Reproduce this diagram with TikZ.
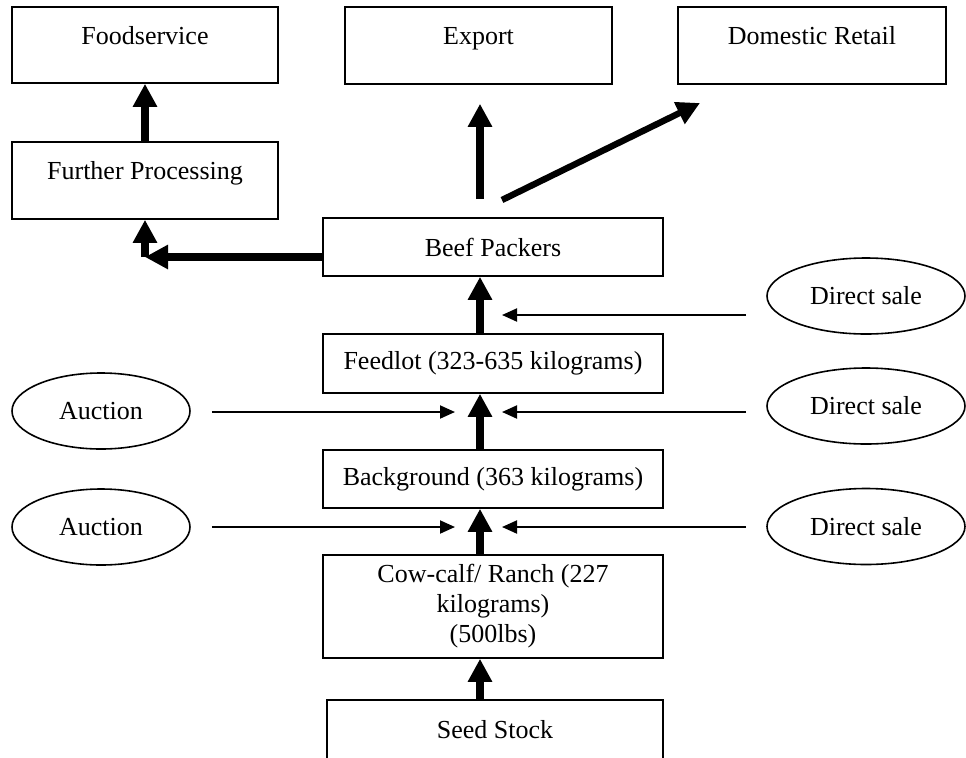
\documentclass[tikz,border=0pt]{standalone}
\usepackage{fontspec}
\setmainfont{Liberation Serif}
\usetikzlibrary{shapes.geometric,arrows.meta}

\begin{document}
\begin{tikzpicture}[x=0.5pt, y=-0.5pt,
  font=\fontsize{13}{15}\selectfont,
  stage/.style={rectangle, draw, line width=0.8pt, inner sep=0pt, align=center},
  topstage/.style={stage, text height=9pt, text depth=10pt},
  market/.style={ellipse, draw, line width=0.8pt, inner sep=0pt, minimum height=38pt},
  flow/.style={line width=3.6pt, -{Triangle[width=11.5pt,length=11.5pt]}},
  feed/.style={line width=1pt, -{Triangle[width=6.5pt,length=7.5pt]}}]
\clip (0,0) rectangle (966,757);

% outlets
\node[topstage, minimum width=133pt, minimum height=38pt] (food) at (145,45) {Foodservice};
\node[topstage, minimum width=133.5pt, minimum height=38.5pt] (export) at (478.5,45.5) {Export};
\node[topstage, minimum width=134pt, minimum height=38.5pt] (retail) at (812,45.5) {Domestic Retail};
\node[topstage, minimum width=133pt, minimum height=38.5pt] (further) at (145,180.5) {Further Processing};

% supply chain stages
\node[stage, minimum width=170pt, minimum height=29pt] (packers) at (493,247) {Beef Packers};
\node[stage, minimum width=170pt, minimum height=29.5pt] (feedlot) at (493,363.5) {Feedlot (323-635 kilograms)};
\node[stage, minimum width=170pt, minimum height=29pt] (backgr) at (493,479) {Background (363 kilograms)};
\node[stage, minimum width=170pt, minimum height=51.5pt] (cowcalf) at (493,606.5) {Cow-calf/ Ranch (227\\kilograms)\\(500lbs)};
\node[stage, minimum width=168pt, minimum height=30pt] (seed) at (495,730) {Seed Stock};

% markets
\node[market, minimum width=89pt] (auc1) at (101,411) {Auction};
\node[market, minimum width=89pt] (auc2) at (101,527) {Auction};
\node[market, minimum width=99pt] (ds1) at (866,296) {Direct sale};
\node[market, minimum width=99pt] (ds2) at (866,406) {Direct sale};
\node[market, minimum width=99pt] (ds3) at (866,526.5) {Direct sale};

\coordinate (spine) at (480,0);
\coordinate (fp corner) at (145,257);
\coordinate (dr tail) at (502,200);
\coordinate (dr head) at (700,103);
\coordinate (in1) at (502,315);
\coordinate (in2l) at (455,412);
\coordinate (in2r) at (502,412);
\coordinate (in3l) at (455,527);
\coordinate (in3r) at (502,527);

\draw[flow] (seed.north -| spine) -- (cowcalf.south -| spine);
\draw[flow] (cowcalf.north -| spine) -- (backgr.south -| spine);
\draw[flow] (backgr.north -| spine) -- (feedlot.south -| spine);
\draw[flow] (feedlot.north -| spine) -- (packers.south -| spine);
\draw[flow, shorten <=9pt, shorten >=9.5pt] (packers.north -| spine) -- (export.south -| spine);
\draw[flow, line width=3.2pt] (dr tail) -- (dr head);
\draw[flow] (packers.west |- fp corner) -- (fp corner);
\draw[flow] (fp corner) -- (further.south);
\draw[flow] (further.north) -- (food.south);

\draw[feed, shorten <=10pt] (ds1.west |- in1) -- (in1);
\draw[feed, shorten <=10.5pt] (auc1.east |- in2l) -- (in2l);
\draw[feed, shorten <=10pt] (ds2.west |- in2r) -- (in2r);
\draw[feed, shorten <=10.5pt] (auc2.east |- in3l) -- (in3l);
\draw[feed, shorten <=10pt] (ds3.west |- in3r) -- (in3r);
\end{tikzpicture}
\end{document}
